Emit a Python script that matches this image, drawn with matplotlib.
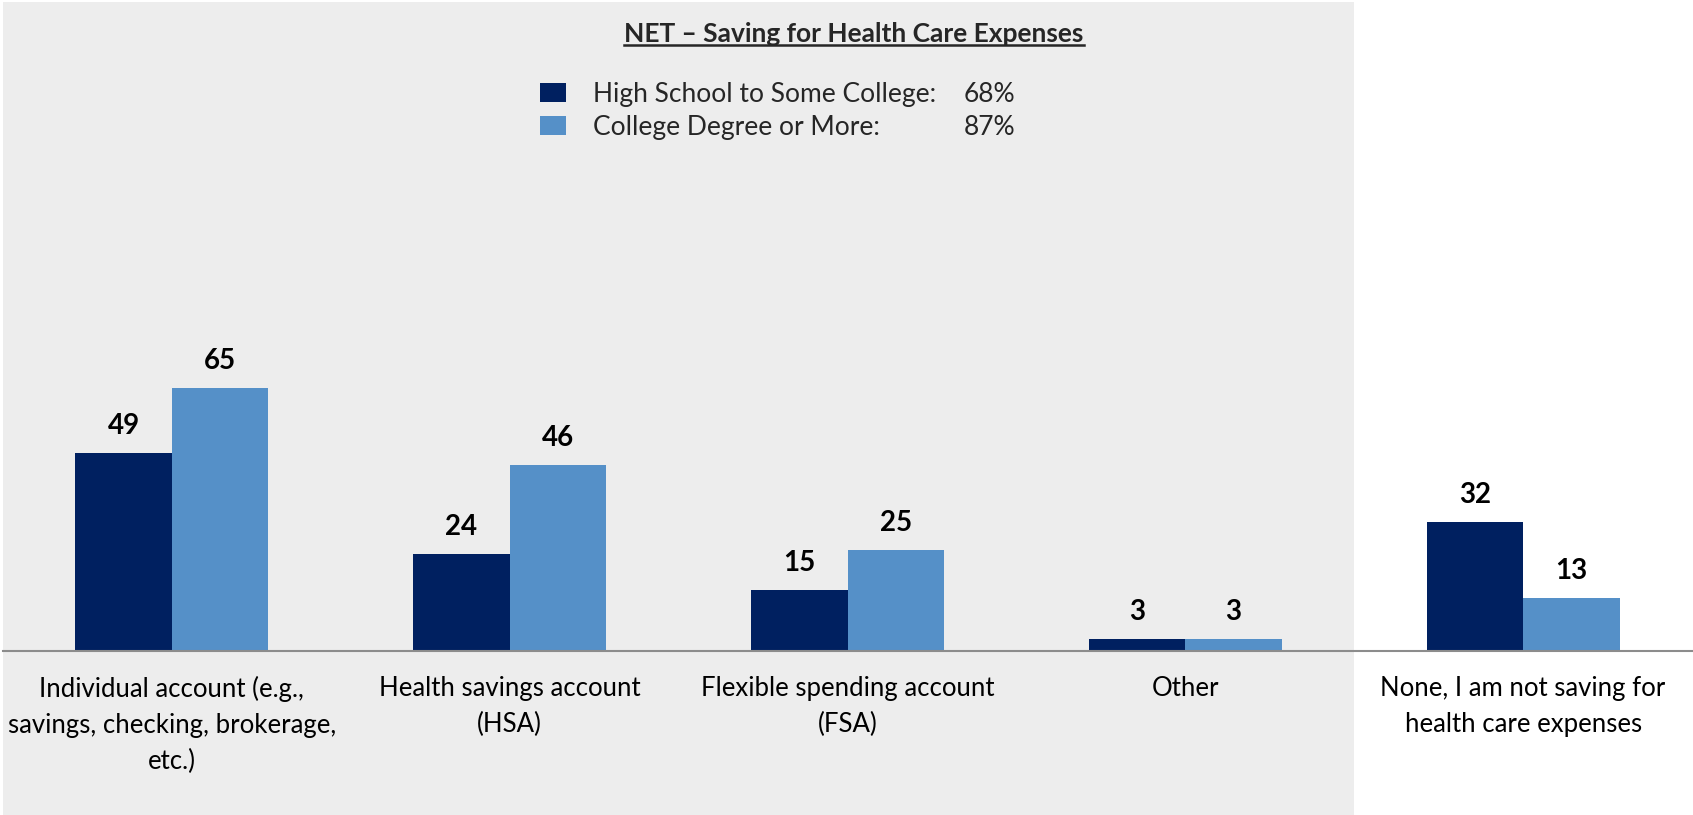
import matplotlib
matplotlib.use("Agg")
import matplotlib.pyplot as plt
from matplotlib.patches import Rectangle
from matplotlib.lines import Line2D
import numpy as np

categories = [
    "Individual account (e.g.,\nsavings, checking, brokerage,\netc.)",
    "Health savings account\n(HSA)",
    "Flexible spending account\n(FSA)",
    "Other",
    "None, I am not saving for\nhealth care expenses",
]
series_names = ["High School to Some College:", "College Degree or More:"]
net_values = ["68%", "87%"]
hs_values = [49, 24, 15, 3, 32]
college_values = [65, 46, 25, 3, 13]
title = "NET \u2013 Saving for Health Care Expenses"

DARK = "#002060"
LIGHT = "#5590C8"
GRAY_BG = "#EDEDED"

plt.rcParams["font.family"] = ["Lato", "DejaVu Sans"]

W, H = 1693, 815
fig = plt.figure(figsize=(W / 100, H / 100), dpi=100)

# gray background panel (covers first four categories)
fig.patches.append(Rectangle((3 / W, 0), (1354 - 3) / W, (813) / H,
                             transform=fig.transFigure, facecolor=GRAY_BG,
                             edgecolor="none", zorder=0))

ax = fig.add_axes([3 / W, (H - 651) / H, (1692 - 3) / W, (651 - 2) / H])
ax.set_facecolor("none")
ax.set_zorder(1)

x = np.arange(len(categories))
bw = 0.2857
b1 = ax.bar(x - bw / 2, hs_values, bw, color=DARK, label=series_names[0])
b2 = ax.bar(x + bw / 2, college_values, bw, color=LIGHT, label=series_names[1])

ax.set_xlim(-0.5, 4.5)
ax.set_ylim(0, 160.6)
for s in ["top", "left", "right"]:
    ax.spines[s].set_visible(False)
ax.spines["bottom"].set_color("#8C8C8C")
ax.spines["bottom"].set_linewidth(1.5)
ax.set_xticks([])
ax.set_yticks([])

for bars in (b1, b2):
    for r in bars:
        v = r.get_height()
        ax.annotate(f"{v:g}", (r.get_x() + r.get_width() / 2, v),
                    xytext=(0, 27), textcoords="offset pixels",
                    ha="center", va="center", fontsize=20, fontweight="bold",
                    color="black")

for i, c in enumerate(categories):
    ax.annotate(c, (i, 0), xytext=(0, -25), textcoords="offset pixels",
                ha="center", va="top", fontsize=18.5, color="black",
                linespacing=1.55, annotation_clip=False)

# title with underline
t = fig.text(854 / W, 1 - 34 / H, title, ha="center", va="center",
             fontsize=19, fontweight="bold", color="#262626")
fig.canvas.draw()
bb = t.get_window_extent()
fig.lines.append(Line2D([bb.x0, bb.x1], [bb.y0 + 1, bb.y0 + 1],
                        transform=None, color="#262626", linewidth=1.8))

# legend
leg = fig.legend(handles=[b1, b2], labels=series_names, loc="upper left",
                 bbox_to_anchor=(540 / W, 1 - 82 / H), frameon=False,
                 fontsize=19, handlelength=1.0, handleheight=0.72,
                 handletextpad=1.0, labelspacing=0.3, borderaxespad=0,
                 borderpad=0, labelcolor="#262626")
fig.canvas.draw()
inv = fig.transFigure.inverted()
for txt, p in zip(leg.get_texts(), net_values):
    e = txt.get_window_extent()
    yc = inv.transform((0, (e.y0 + e.y1) / 2))[1]
    fig.text(964 / W, yc, p, ha="left", va="center",
             fontsize=19, color="#262626")

fig.savefig("out.png", dpi=100)
